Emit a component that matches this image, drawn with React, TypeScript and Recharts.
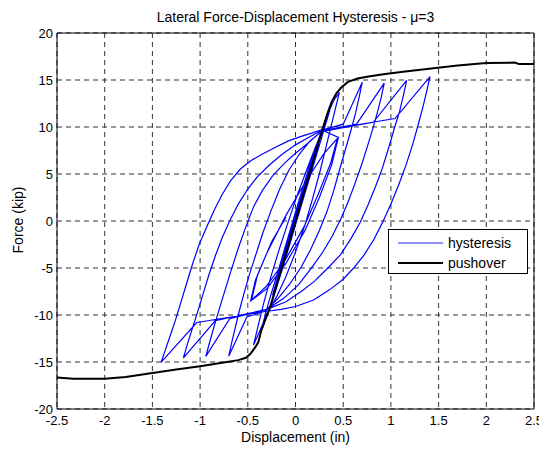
import React from "react";
import { LineChart, Line, XAxis, YAxis, CartesianGrid, ReferenceArea } from "recharts";

type Pt = [number, number];

const xTicks = [-2.5, -2, -1.5, -1, -0.5, 0, 0.5, 1, 1.5, 2, 2.5];
const yTicks = [-20, -15, -10, -5, 0, 5, 10, 15, 20];

// displacement (in), force (kip)
const pushover: Pt[] = [
    [-2.5, -16.65], [-2.33, -16.78], [-2.0, -16.78], [-1.78, -16.6], [-1.5, -16.18], [-1.25, -15.8],
    [-1.0, -15.45], [-0.72, -15.0], [-0.6, -14.8], [-0.52, -14.55], [-0.47, -14.1], [-0.42, -13.4],
    [-0.39, -12.9], [-0.36, -11.7], [-0.32, -10.6], [-0.27, -9.3], [0, 0], [0.29, 10.0], [0.34, 11.6],
    [0.38, 12.7], [0.43, 13.6], [0.48, 14.2], [0.55, 14.8], [0.65, 15.15], [0.75, 15.35], [0.92, 15.6],
    [1.15, 15.9], [1.4, 16.2], [1.7, 16.55], [2.0, 16.82], [2.3, 16.85], [2.34, 16.7], [2.5, 16.7],
];

const elasticCycles: Pt[] = [
    [0, 0], [0.06, 2.0], [0.12, 4.1], [0.07, 2.5], [0, 0.1], [-0.07, -2.3], [-0.12, -4.0], [-0.07, -2.2],
    [0, 0.3], [0.1, 3.6], [0.18, 6.2], [0.24, 8.1], [0.17, 5.6], [0.08, 2.4], [0, -0.4], [-0.1, -3.7],
    [-0.18, -6.1], [-0.24, -7.9], [-0.16, -5.0], [-0.06, -1.5], [0.05, 2.2], [0.15, 5.5], [0.25, 8.7],
    [0.31, 10.4], [0.36, 11.8], [0.29, 9.4], [0.19, 6.0], [0.08, 2.3], [-0.04, -1.8], [-0.14, -5.2],
    [-0.24, -8.4], [-0.31, -10.3], [-0.36, -11.6], [-0.28, -8.6], [-0.17, -4.9], [-0.06, -1.1],
    [0.06, 3.0], [0.16, 6.3], [0.26, 9.2], [0.34, 11.4], [0.4, 12.8], [0.46, 13.7],
];

const cycleMu1: Pt[] = [
    [0.41, 11.6], [0.34, 8.7], [0.26, 5.4], [0.18, 2.4], [0.1, -0.4], [0.0, -3.3], [-0.1, -5.9],
    [-0.2, -8.1], [-0.3, -9.9], [-0.37, -11.6], [-0.44, -13.2],
    [-0.4, -11.5], [-0.34, -9.0], [-0.26, -6.0], [-0.17, -3.0], [-0.08, -0.2], [0.02, 2.8],
    [0.12, 5.5], [0.21, 7.9], [0.29, 9.7],
];

const cycleMu15: Pt[] = [
    [0.5, 10.3], [0.7, 14.77],
    [0.67, 13.3], [0.63, 11.5], [0.58, 9.6], [0.52, 7.5], [0.46, 5.4], [0.4, 3.2], [0.33, 1.0],
    [0.25, -1.0], [0.16, -3.0], [0.06, -4.9], [-0.06, -6.7], [-0.18, -8.2], [-0.32, -9.6],
    [-0.51, -10.2], [-0.7, -14.4],
    [-0.67, -13.0], [-0.63, -11.3], [-0.59, -9.6], [-0.54, -7.7], [-0.48, -5.6], [-0.41, -3.4],
    [-0.34, -1.2], [-0.26, 1.0], [-0.17, 3.3], [-0.07, 5.4], [0.04, 7.1], [0.15, 8.5], [0.28, 9.6],
];

const cycleMu2: Pt[] = [
    [0.64, 10.3], [0.93, 14.66],
    [0.9, 13.2], [0.86, 11.6], [0.81, 9.8], [0.75, 7.8], [0.69, 5.9], [0.62, 3.9], [0.55, 2.0],
    [0.47, 0.1], [0.38, -1.7], [0.28, -3.4], [0.16, -5.1], [0.03, -6.8], [-0.12, -8.2], [-0.3, -9.4],
    [-0.69, -10.4], [-0.94, -14.4],
    [-0.9, -12.9], [-0.85, -11.1], [-0.8, -9.4], [-0.74, -7.4], [-0.67, -5.1], [-0.6, -2.9],
    [-0.52, -0.6], [-0.44, 1.5], [-0.35, 3.2], [-0.24, 4.8], [-0.12, 6.1], [0.0, 7.2], [0.12, 8.2],
    [0.2, 8.9], [0.27, 9.5],
];

const cycleMu25: Pt[] = [
    [0.815, 10.5], [1.165, 14.95],
    [1.13, 13.3], [1.09, 11.6], [1.04, 10.0], [0.98, 7.9], [0.91, 5.6], [0.84, 3.7], [0.76, 1.7],
    [0.68, -0.1], [0.58, -1.9], [0.47, -3.6], [0.34, -5.0], [0.2, -6.4], [0.06, -7.5], [-0.1, -8.6],
    [-0.3, -9.4],
    [-0.84, -10.6], [-1.175, -14.55],
    [-1.13, -13.0], [-1.08, -11.4], [-1.03, -9.8], [-0.97, -7.8], [-0.91, -5.8], [-0.84, -3.7],
    [-0.77, -1.8], [-0.69, 0], [-0.6, 1.8], [-0.5, 3.4], [-0.4, 4.7], [-0.28, 5.9], [-0.14, 7.1],
    [0, 8.1], [0.14, 8.9], [0.27, 9.6],
];

const cycleMu3: Pt[] = [
    [1.043, 10.9], [1.41, 15.37],
    [1.38, 14.0], [1.34, 12.3], [1.29, 10.4], [1.23, 8.2], [1.16, 6.0], [1.08, 3.8], [1.0, 1.8],
    [0.91, -0.2], [0.82, -2.0], [0.72, -3.6], [0.61, -5.0], [0.5, -6.2], [0.36, -7.3], [0.19, -8.4],
    [0.0, -9.1], [-0.15, -9.4], [-0.3, -9.6],
    [-1.035, -10.8], [-1.41, -15.05],
    [-1.37, -13.9], [-1.32, -12.4], [-1.26, -10.6], [-1.2, -8.6], [-1.14, -6.6], [-1.08, -4.6],
    [-1.01, -2.5], [-0.93, -0.6], [-0.85, 1.2], [-0.77, 2.8], [-0.68, 4.3], [-0.58, 5.5],
    [-0.47, 6.4], [-0.35, 7.1], [-0.22, 7.8], [-0.08, 8.5], [0.06, 9.0], [0.17, 9.35], [0.27, 9.7],
];

const finalSmallCycles: Pt[] = [
    [0.45, 8.9], [0.38, 6.0], [0.25, 2.5], [0.1, -1.0], [-0.1, -4.5], [-0.3, -7.2], [-0.47, -8.5],
    [-0.42, -6.3], [-0.3, -3.4], [-0.1, 0.6], [0.1, 4.1], [0.3, 7.2], [0.44, 8.8],
    [0.37, 6.2], [0.24, 2.9], [0.09, -0.6], [-0.11, -4.2], [-0.31, -7.0], [-0.46, -8.4],
    [-0.4, -5.8], [-0.25, -2.2], [-0.1, 0.4],
];

const hysteresis: Pt[] = [
    ...elasticCycles, ...cycleMu1, ...cycleMu15, ...cycleMu2, ...cycleMu25, ...cycleMu3, ...finalSmallCycles,
];

const toRows = (pts: Pt[]) => pts.map(([d, f]) => ({ d, f }));

const FONT = "'Liberation Sans', Arial, Helvetica, sans-serif";
const TICK = { fontSize: 13, fill: "#000", fontFamily: FONT };

export default function App() {
    return (
        <div style={{ position: "relative", width: 539, height: 443, fontFamily: FONT, color: "#000" }}>
            <div style={{ position: "absolute", left: 287.5, top: 9, transform: "translate(-50%, -50%)", fontSize: 14, whiteSpace: "nowrap" }}>
                Lateral Force-Displacement Hysteresis - μ=3
            </div>
            <LineChart width={539} height={443} margin={{ top: 25, right: 13, bottom: 0, left: 0 }}>
                <CartesianGrid stroke="#333" strokeDasharray="5 4" />
                <XAxis
                    dataKey="d"
                    type="number"
                    domain={[-2.5, 2.5]}
                    ticks={xTicks}
                    allowDataOverflow
                    height={42}
                    axisLine={false}
                    tickLine={false}
                    tickSize={0}
                    tickMargin={7}
                    tick={TICK}
                />
                <YAxis
                    type="number"
                    domain={[-20, 20]}
                    ticks={yTicks}
                    allowDataOverflow
                    width={49}
                    axisLine={false}
                    tickLine={false}
                    tickSize={0}
                    tickMargin={4}
                    tick={TICK}
                />
                <ReferenceArea x1={-2.5} x2={2.5} y1={-20} y2={20} fill="none" stroke="#000" strokeWidth={1} ifOverflow="visible" />
                <Line
                    data={toRows(hysteresis)}
                    dataKey="f"
                    type="linear"
                    stroke="#0000ff"
                    strokeWidth={1.2}
                    dot={false}
                    activeDot={false}
                    isAnimationActive={false}
                />
                <Line
                    data={toRows(pushover)}
                    dataKey="f"
                    type="linear"
                    stroke="#000"
                    strokeWidth={2}
                    dot={false}
                    activeDot={false}
                    isAnimationActive={false}
                />
            </LineChart>
            <div style={{ position: "absolute", left: 10, top: 212, transform: "translate(-50%, -50%) rotate(-90deg)", fontSize: 14, whiteSpace: "nowrap" }}>
                Force (kip)
            </div>
            <div style={{ position: "absolute", left: 287.5, top: 429, transform: "translate(-50%, -50%)", fontSize: 14, whiteSpace: "nowrap" }}>
                Displacement (in)
            </div>
            <div style={{ position: "absolute", left: 380, top: 221, width: 138, height: 43, border: "1px solid #000", background: "#fff", fontSize: 14 }}>
                <svg width={60} height={43} style={{ position: "absolute", left: 0, top: 0 }}>
                    <line x1={9} x2={54} y1={13} y2={13} stroke="#6f6fff" strokeWidth={1.5} />
                    <line x1={9} x2={54} y1={33} y2={33} stroke="#000" strokeWidth={2} />
                </svg>
                <div style={{ position: "absolute", left: 59, top: 13, transform: "translateY(-50%)", whiteSpace: "nowrap" }}>hysteresis</div>
                <div style={{ position: "absolute", left: 59, top: 33, transform: "translateY(-50%)", whiteSpace: "nowrap" }}>pushover</div>
            </div>
        </div>
    );
}
